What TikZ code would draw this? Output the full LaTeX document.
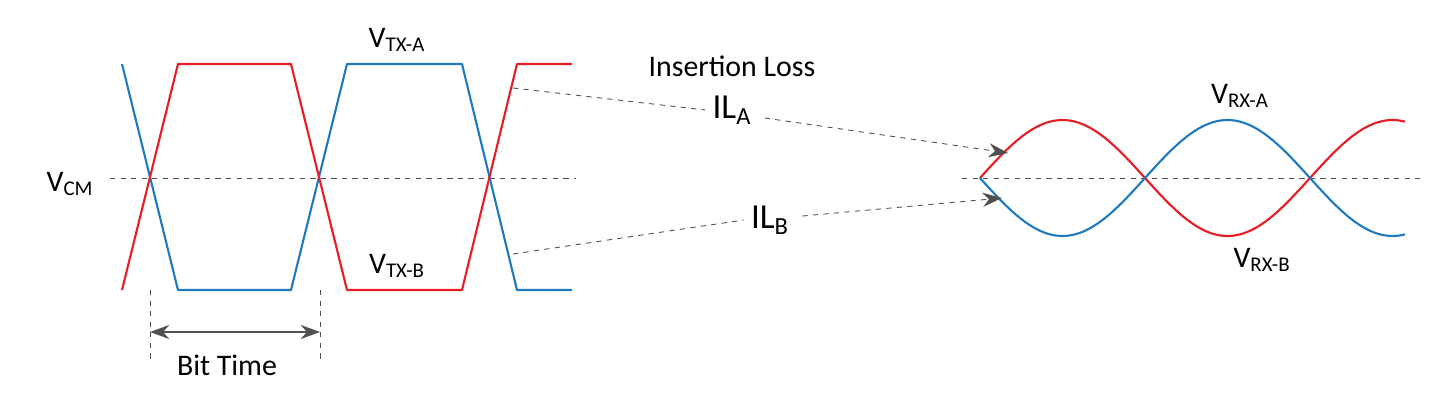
\documentclass[tikz,border=0pt]{standalone}
\usepackage{fontspec}
\setmainfont{Carlito}
\usetikzlibrary{positioning}
\usetikzlibrary{arrows.meta}

\definecolor{sigred}{RGB}{232,28,36}
\definecolor{sigblue}{RGB}{30,122,192}
\definecolor{guide}{RGB}{80,80,80}

\tikzset{
  wave/.style={line width=1.2pt, line join=round},
  guideline/.style={guide, dashed, line width=0.5pt},
  lossarrow/.style={guideline, -{Stealth[length=11pt,width=8pt]}},
  lbl/.style={font=\fontsize{17}{20}\selectfont, inner sep=2pt},
  biglbl/.style={font=\fontsize{20}{24}\selectfont, inner sep=4pt}
}

\begin{document}
\begin{tikzpicture}[x=0.02cm, y=-0.02cm]
  \useasboundingbox (0,0) rectangle (1450,400);

  % common mode lines
  \draw[guideline] (110,178) -- (576,178);
  \draw[guideline] (962,178) -- (1420,178);

  % transmitted signals
  \draw[wave, sigblue] (122,64) -- (178,290) -- (291,290) -- (347,64) -- (462,64) -- (517,290) -- (572,290);
  \draw[wave, sigred] (122,290) -- (178,64) -- (291,64) -- (347,290) -- (462,290) -- (517,64) -- (572,64);

  % received signals
  \draw[wave, sigred] plot[domain=0:425, samples=120, smooth] ({980+\x}, {178-58*sin(1.0909*\x)});
  \draw[wave, sigblue] plot[domain=0:425, samples=120, smooth] ({980+\x}, {178+58*sin(1.0909*\x)});

  % labels
  \node[lbl] (vcm) at (70,184) {V\textsubscript{CM}};
  \node[lbl] (vtxa) at (397,40) {V\textsubscript{TX-A}};
  \node[lbl] (vtxb) at (397,266) {V\textsubscript{TX-B}};
  \node[lbl] (loss) at (732,66) {Insertion Loss};
  \node[biglbl] (ila) at (732,110) {IL\textsubscript{A}};
  \node[biglbl] (ilb) at (770,220) {IL\textsubscript{B}};
  \node[lbl] (vrxa) at (1240,96) {V\textsubscript{RX-A}};
  \node[lbl] (vrxb) at (1262,260) {V\textsubscript{RX-B}};
  \node[lbl] (bit) at (227,365) {Bit Time};

  % insertion loss pointers
  \coordinate (txa) at (513,88);
  \coordinate (txb) at (513,254);
  \coordinate (rxa) at (1008,153);
  \coordinate (rxb) at (1002,198);
  \draw[guideline] (txa) -- (ila.west);
  \draw[lossarrow] (ila.east) ++(6,8) -- (rxa);
  \draw[guideline] (txb) -- (ilb.west);
  \draw[lossarrow] (ilb.east) ++(6,-4) -- (rxb);

  % bit time
  \coordinate (bl) at (150,290);
  \coordinate (br) at (320,290);
  \draw[guideline] (bl) -- ++(0,70);
  \draw[guideline] (br) -- ++(0,70);
  \draw[guide, line width=0.8pt, {Stealth[length=11pt,width=8pt]}-{Stealth[length=11pt,width=8pt]}] ([yshift=-0.84cm]bl) -- ([yshift=-0.84cm]br);
\end{tikzpicture}
\end{document}
